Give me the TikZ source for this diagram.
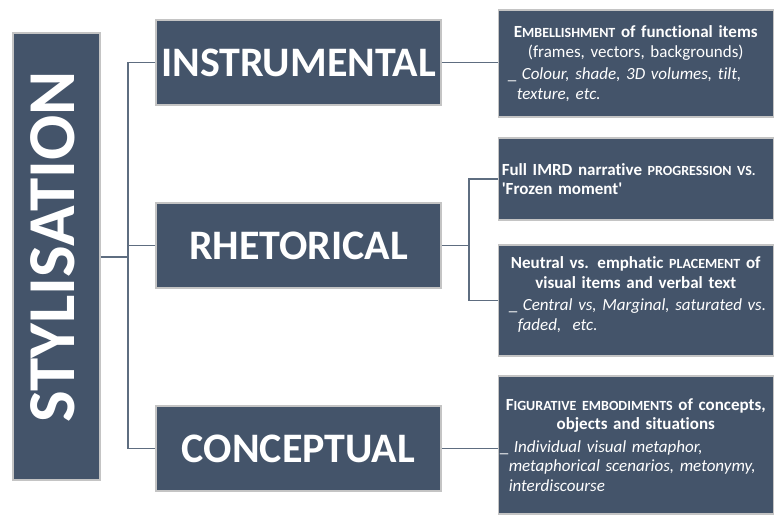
\documentclass[tikz,border=0pt]{standalone}
\usepackage{fontspec}
\setmainfont{Carlito}[Ligatures=NoCommon]
\usetikzlibrary{positioning}
\definecolor{slate}{HTML}{44546A}
\definecolor{rim}{HTML}{C4C4C4}
\definecolor{wire}{HTML}{5E6D80}
\newcommand{\smcap}[1]{{\fontsize{14}{19}\selectfont #1}}
\newcommand{\detail}[2][0pt]{\par\vspace{3pt}\raggedright\leftskip=#1\hangindent=9pt\hangafter=1 \_ \itshape #2\par}

\begin{document}
\begin{tikzpicture}[x=1pt,y=-1pt,
    box/.style={draw=rim, line width=1.5pt, fill=slate, text=white, inner sep=0pt},
    root/.style={box, minimum width=87pt, minimum height=447pt},
    branch/.style={box, minimum width=285pt, minimum height=85pt, font=\fontsize{42}{48}\selectfont\bfseries},
    leaf/.style={box, minimum width=275pt, text width=268pt, font=\fontsize{17}{19.5}\selectfont},
    link/.style={draw=wire, line width=1.5pt}]
      \useasboundingbox (0,0) rectangle (774,515);

      \node[root] (styl) at (56.5,256.5) {};
      \node[rotate=90, text=white, font=\fontsize{67}{77}\selectfont\bfseries] (stylword) at (53,247) {STYLISATION};

      \node[branch] (instr) at (298.5,62.5) {INSTRUMENTAL};
      \node[branch] (rhet) at (298.5,245.5) {RHETORICAL};
      \node[branch] (concep) at (298.5,448.5) {CONCEPTUAL};

      \node[leaf, minimum height=107pt] (embel) at (635.75,63.5) {\centering
        \textbf{E\smcap{MBELLISHMENT} of functional items}\\
        (frames, vectors, backgrounds)
        \detail[6pt]{Colour, shade, 3D volumes, tilt,\newline texture, etc.}};
      \node[leaf, minimum height=82pt] (imrd) at (635.75,179) {\raggedright\bfseries
        Full IMRD narrative \smcap{PROGRESSION VS.}\\
        \textquotesingle Frozen moment\textquotesingle\par};
      \node[leaf, minimum height=111pt] (place) at (635.75,300.5) {\centering
        \textbf{Neutral vs. emphatic \smcap{PLACEMENT} of}\\
        \textbf{visual items and verbal text}
        \detail[7pt]{Central vs, Marginal, saturated vs.\newline faded,~ etc.}\vspace*{12pt}};
      \node[leaf, minimum height=138pt] (figur) at (635.75,445) {\centering
        \textbf{F\smcap{IGURATIVE EMBODIMENTS} of concepts,}\\
        \textbf{objects and situations}
        \detail[-2pt]{Individual visual metaphor,\newline metaphorical scenarios, metonymy,\newline interdiscourse}};

      % tree on the left
      \coordinate (trunk) at (128,257);
      \draw[link] (styl.east |- trunk) -- (trunk);
      \draw[link] (instr.west) -| (trunk) |- (concep.west);
      \draw[link] (rhet.west) -- (rhet.west -| trunk);

      % links to the details
      \coordinate (fork) at (469,246);
      \draw[link] (instr.east) -- (instr.east -| embel.west);
      \draw[link] (rhet.east) -- (rhet.east -| fork);
      \draw[link] (imrd.west) -| (fork) |- (place.west);
      \draw[link] (concep.east) -- (concep.east -| figur.west);
    \end{tikzpicture}
\end{document}
